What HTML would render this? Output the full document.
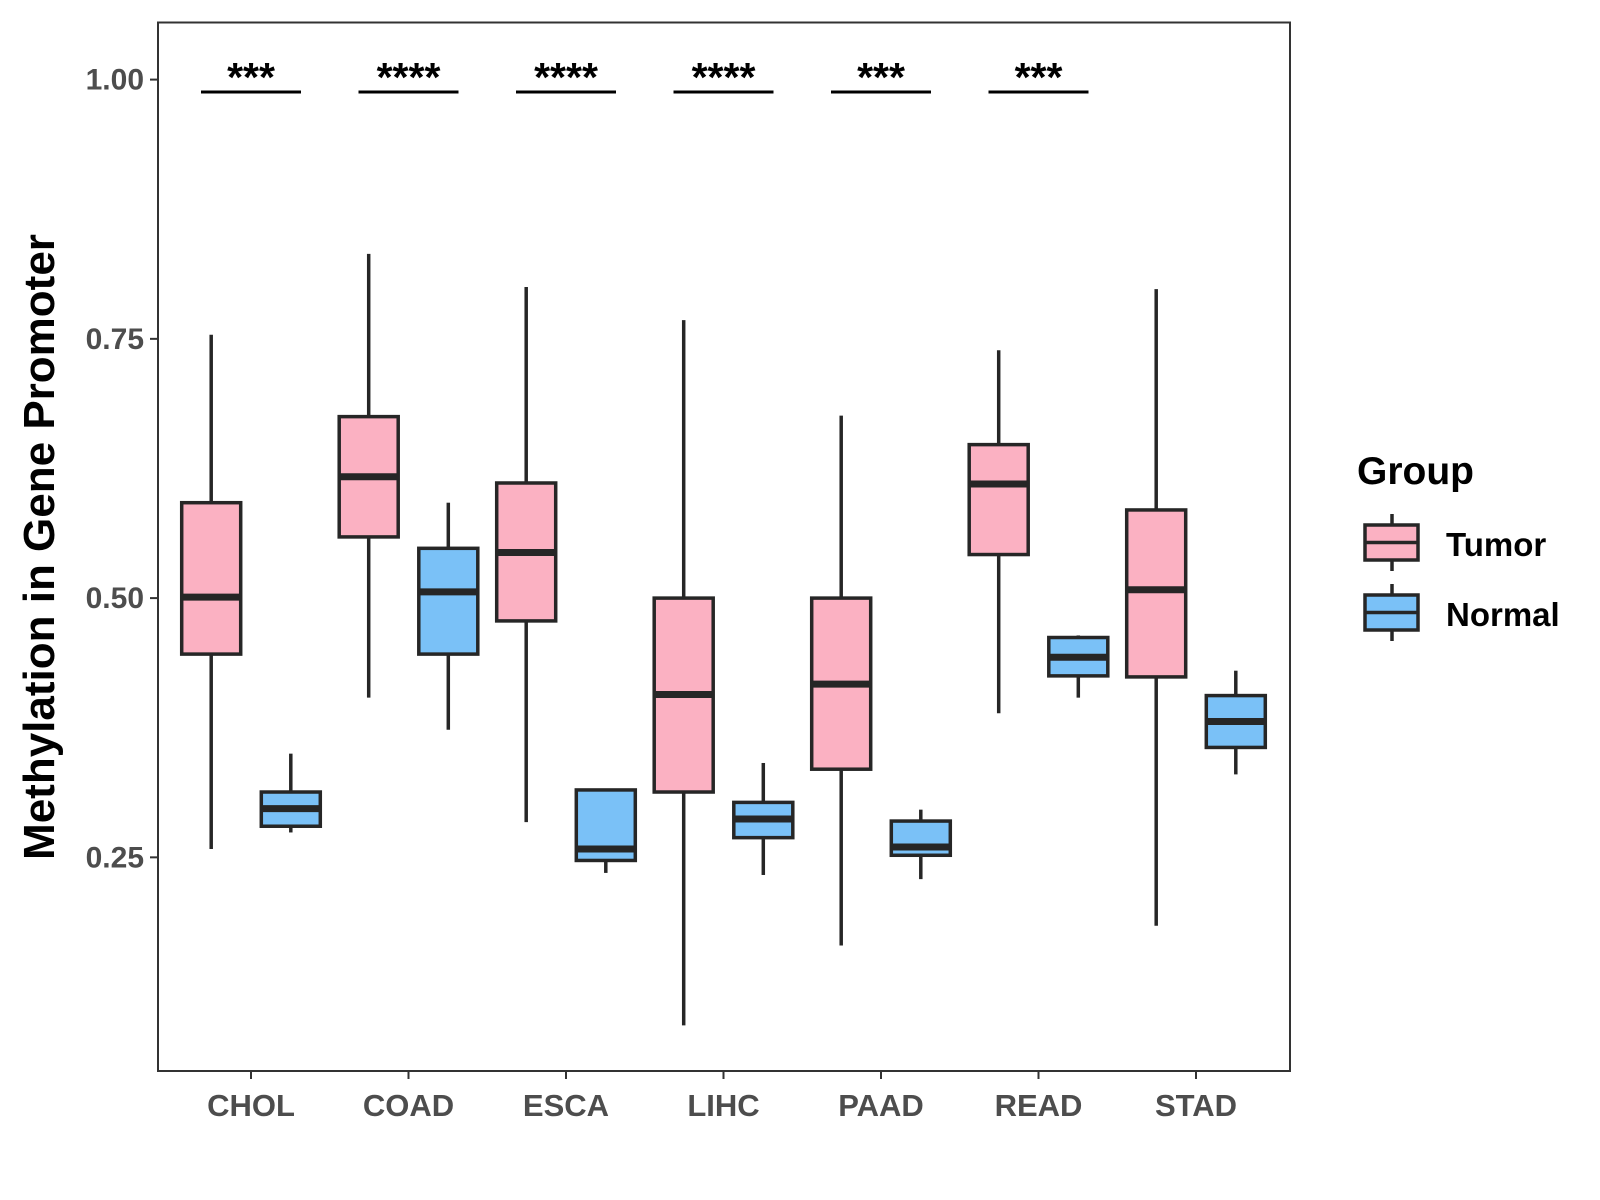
<!DOCTYPE html>
<html><head><meta charset="utf-8"><style>
body{margin:0;background:#fff;}
svg{display:block;font-family:"Liberation Sans",Arial,sans-serif;}
</style></head><body>
<svg id="chart" width="1600" height="1200" viewBox="0 0 1600 1200" xmlns="http://www.w3.org/2000/svg">
<rect x="0" y="0" width="1600" height="1200" fill="#fff"/>
<g id="plot"></g>
<text transform="translate(54,547) rotate(-90)" text-anchor="middle" font-size="44" font-weight="bold" fill="#000">Methylation in Gene Promoter</text>
<g transform="translate(-7,-2)">
<text x="1364" y="486" font-size="39" font-weight="bold">Group</text>
<g>
<line x1="1399" y1="516" x2="1399" y2="573" stroke="#262626" stroke-width="3.5"/>
<rect x="1372" y="527" width="53" height="35" fill="#FBB1C2" stroke="#262626" stroke-width="3.5"/>
<line x1="1372" y1="544.5" x2="1425" y2="544.5" stroke="#262626" stroke-width="3.5"/>
<text x="1453" y="558" font-size="33" font-weight="bold">Tumor</text>
</g>
<g>
<line x1="1399" y1="586" x2="1399" y2="643" stroke="#262626" stroke-width="3.5"/>
<rect x="1372" y="597" width="53" height="35" fill="#7AC1F7" stroke="#262626" stroke-width="3.5"/>
<line x1="1372" y1="614.5" x2="1425" y2="614.5" stroke="#262626" stroke-width="3.5"/>
<text x="1453" y="628" font-size="33" font-weight="bold">Normal</text>
</g>
</g>
</svg>
<script>
const categories = ["CHOL","COAD","ESCA","LIHC","PAAD","READ","STAD"];
// [lower whisker, q1, median, q3, upper whisker]
const tumorStats = [
 [0.258,0.446,0.501,0.592,0.754],
 [0.404,0.559,0.617,0.675,0.832],
 [0.284,0.478,0.544,0.611,0.800],
 [0.088,0.313,0.407,0.500,0.768],
 [0.165,0.335,0.417,0.500,0.676],
 [0.389,0.542,0.610,0.648,0.739],
 [0.184,0.424,0.508,0.585,0.798]];
const normalStats = [
 [0.274,0.280,0.297,0.313,0.350],
 [0.373,0.446,0.506,0.548,0.592],
 [0.235,0.247,0.258,0.315,0.315],
 [0.233,0.269,0.287,0.303,0.341],
 [0.229,0.252,0.260,0.285,0.296],
 [0.404,0.425,0.443,0.462,0.464],
 [0.330,0.356,0.381,0.406,0.430]];
const signif = ["***","****","****","****","***","***",""];
const yTicks = [0.25,0.50,0.75,1.00];
const yTickLabels = ["0.25","0.50","0.75","1.00"];

const NS="http://www.w3.org/2000/svg";
const P={l:158,r:1290,t:22.5,b:1071};
const y=v=>79.6+(1-v)*1037;
const x=i=>251+i*157.5;
const g=document.getElementById('plot');
function el(t,a,parent){const e=document.createElementNS(NS,t);for(const k in a)e.setAttribute(k,a[k]);(parent||g).appendChild(e);return e;}

const frame=el('rect',{x:P.l,y:P.t,width:P.r-P.l,height:P.b-P.t,fill:'none',stroke:'#333',"stroke-width":2});



yTicks.forEach((v,i)=>{
 const tk=el('line',{x1:P.l-8,x2:P.l,y1:y(v),y2:y(v),stroke:'#333',"stroke-width":2});
 
 
 const t=el('text',{x:P.l-14,y:y(v)+10,"text-anchor":"end","font-size":30,"font-weight":"bold",fill:'#4d4d4d'});
 t.textContent=yTickLabels[i];
 
 
});

function box(cx,s,fill,name){
 const grp=el('g',{});
 
 
 const w=59;
 el('line',{x1:cx,x2:cx,y1:y(s[4]),y2:y(s[3]),stroke:'#262626',"stroke-width":3.5},grp);
 el('line',{x1:cx,x2:cx,y1:y(s[1]),y2:y(s[0]),stroke:'#262626',"stroke-width":3.5},grp);
 el('rect',{x:cx-w/2,y:y(s[3]),width:w,height:y(s[1])-y(s[3]),fill:fill,stroke:'#262626',"stroke-width":3.5},grp);
 el('line',{x1:cx-w/2,x2:cx+w/2,y1:y(s[2]),y2:y(s[2]),stroke:'#262626',"stroke-width":7},grp);
}

categories.forEach((c,i)=>{
 const cx=x(i);
 box(cx-39.8,tumorStats[i],'#FBB1C2','box-tumor-'+c.toLowerCase());
 box(cx+39.8,normalStats[i],'#7AC1F7','box-normal-'+c.toLowerCase());
 const tk=el('line',{x1:cx,x2:cx,y1:P.b,y2:P.b+8,stroke:'#333',"stroke-width":2});
 
 
 const t=el('text',{x:cx,y:P.b+45,"text-anchor":"middle","font-size":31,"font-weight":"bold",fill:'#4d4d4d'});
 t.textContent=c;
 
 
 if(signif[i]){
  const l=el('line',{x1:cx-50,x2:cx+50,y1:92,y2:92,stroke:'#000',"stroke-width":3});
  
  
  const s=el('text',{x:cx,y:91,"text-anchor":"middle","font-size":41,"font-weight":"bold",fill:'#000'});
  s.textContent=signif[i];
  
  
 }
});
</script>
</body></html>
